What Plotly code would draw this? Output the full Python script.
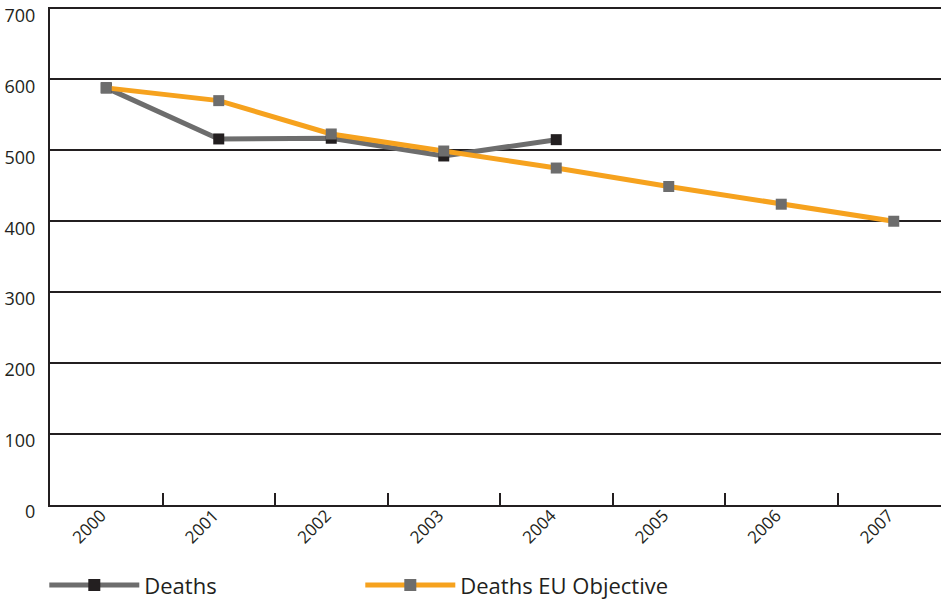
import plotly.graph_objects as go

years = ["2000", "2001", "2002", "2003", "2004", "2005", "2006", "2007"]
deaths = [588, 516, 517, 492, 515]
objective = [588, 570, 523, 499, 475, 449, 424, 400]
y_ticks = [0, 100, 200, 300, 400, 500, 600, 700]

fig = go.Figure()
fig.add_trace(go.Scatter(
    x=years[:len(deaths)], y=deaths, name="Deaths", mode="lines+markers",
    line=dict(color="#6d6d6d", width=5),
    marker=dict(symbol="square", size=11, color="#231f20"),
))
fig.add_trace(go.Scatter(
    x=years, y=objective, name="Deaths EU Objective", mode="lines+markers",
    line=dict(color="#f6a21e", width=5),
    marker=dict(symbol="square", size=11, color="#6d6d6d"),
))

fig.update_layout(
    width=942, height=600,
    margin=dict(l=50, r=1, t=7, b=95, autoexpand=False),
    paper_bgcolor="white", plot_bgcolor="white",
    font=dict(family="Open Sans, Noto Sans, sans-serif", color="#231f20", size=16),
    showlegend=True,
    legend=dict(
        orientation="h", x=-0.0064, xanchor="left", y=-0.161, yanchor="middle",
        font=dict(size=22), itemwidth=90, entrywidth=211, entrywidthmode="pixels",
        traceorder="normal", itemsizing="constant",
    ),
)
fig.update_xaxes(
    type="category", categoryorder="array", categoryarray=years,
    range=[-0.5, 7.42], automargin=False,
    showgrid=False, showline=True, linecolor="#231f20", linewidth=2,
    ticks="inside", tickson="boundaries", ticklen=12, tickwidth=1.5, tickcolor="#231f20",
    tickangle=-45, tickfont=dict(size=17), ticklabelstandoff=-8, ticklabelshift=-5,
)
fig.update_yaxes(
    range=[0, 702], tickvals=y_ticks, ticktext=[str(v) for v in y_ticks],
    automargin=False,
    showgrid=True, gridcolor="#231f20", gridwidth=1.5,
    showline=True, linecolor="#231f20", linewidth=2,
    zeroline=False, ticks="", ticklabelstandoff=9, ticklabelshift=7,
    tickfont=dict(size=18),
)

fig.write_html(
    "out.html",
    config={"displayModeBar": False},
    post_script="document.body.style.margin='0';document.body.style.padding='0';",
)
